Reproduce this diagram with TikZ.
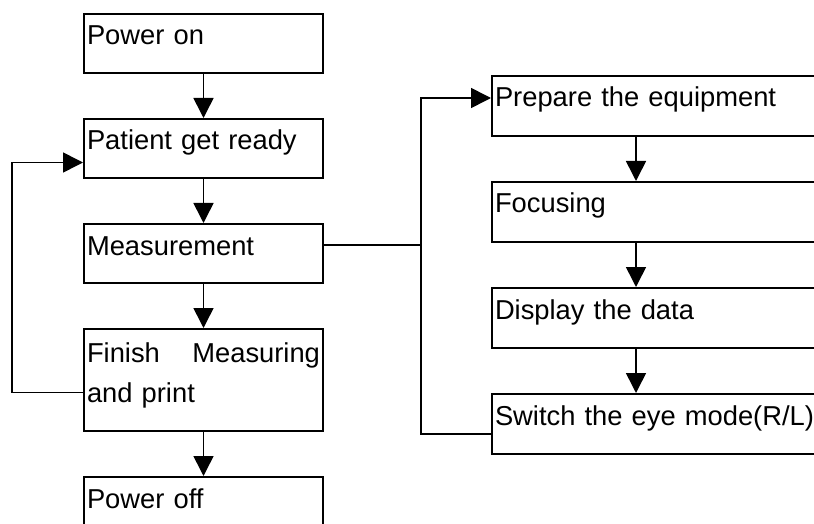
\documentclass[tikz,border=0pt]{standalone}
\usepackage{fontspec}
\setmainfont{Liberation Sans}
\usetikzlibrary{positioning,arrows.meta}

\begin{document}
\begin{tikzpicture}[
  node distance=33pt,
  box/.style={rectangle, draw, line width=1.5pt, inner xsep=2.25pt, inner ysep=0pt, text width=174.75pt, align=left, text height=23.25pt, text depth=21pt, font=\fontsize{20.5pt}{30pt}\selectfont},
  widebox/.style={box, text width=243pt, text depth=21.75pt},
  arrow/.style={-{Triangle[length=15pt, width=15pt]}, line width=1.2pt},
  link/.style={line width=1.2pt}
  ]
  \useasboundingbox (0,0) rectangle (610.5pt,-393pt);
  \clip (0,0) rectangle (610.5pt,-393pt);
  % main steps
  \node[box, anchor=north west] (pon) at (62.25pt,-9.75pt) {Power on};
  \node[box, below=of pon] (pat) {Patient get ready};
  \node[box, below=of pat] (meas) {Measurement};
  \node[box, below=of meas, text height=24.75pt, text depth=51.75pt] (fin) {Finish\hfill Measuring\\and print};
  \node[box, below=of fin] (poff) {Power off};
  \draw[arrow] (pon) -- (pat);
  \draw[arrow] (pat) -- (meas);
  \draw[arrow] (meas) -- (fin);
  \draw[arrow] (fin) -- (poff);
  % repeat for the next patient
  \draw[arrow] ([yshift=-9.4pt]fin.west) -- ++(-53.25pt,0) |- ([yshift=-10.5pt]pat.west);
  % measurement steps
  \node[widebox, anchor=north west] (prep) at (368.25pt,-56.25pt) {Prepare the equipment};
  \node[widebox, below=of prep] (foc) {Focusing};
  \node[widebox, below=of foc] (disp) {Display the data};
  \node[widebox, below=of disp] (eye) {Switch the eye mode(R/L)};
  \draw[arrow] ([xshift=108.75pt]prep.south west) -- ([xshift=108.75pt]foc.north west);
  \draw[arrow] ([xshift=108.75pt]foc.south west) -- ([xshift=108.75pt]disp.north west);
  \draw[arrow] ([xshift=108.75pt]disp.south west) -- ([xshift=108.75pt]eye.north west);
  \coordinate (split) at ([xshift=72.75pt, yshift=6.5pt]meas.east);
  \draw[link] ([yshift=6.5pt]meas.east) -- (split);
  \draw[arrow] (split) |- ([yshift=6pt]prep.west);
  \draw[link] (split) |- ([yshift=-7.5pt]eye.west);
\end{tikzpicture}
\end{document}
